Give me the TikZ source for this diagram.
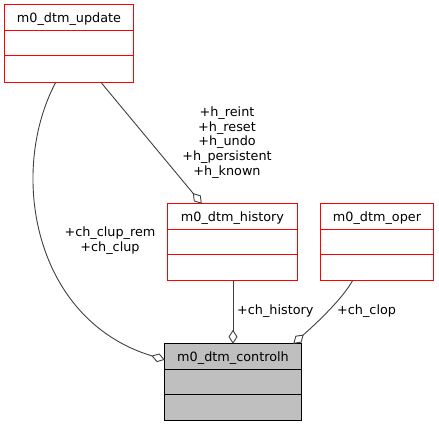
\documentclass[tikz,border=0pt]{standalone}
\usepackage{fontspec}
\setmainfont{DejaVu Sans}
\usetikzlibrary{arrows.meta,calc}
\definecolor{EdgeGray}{HTML}{404040}
\definecolor{BoxGray}{HTML}{BFBFBF}
\definecolor{BoxRed}{HTML}{FF0000}

\begin{document}
\begin{tikzpicture}[x=1pt,y=-1pt,
  font=\fontsize{12.8}{14.8}\selectfont,
  clsbox/.style={rectangle,inner sep=0pt,minimum height=76pt},
  curbox/.style={rectangle,fill=BoxGray,inner sep=0pt,minimum height=76pt},
  sep/.style={line width=1pt},
  agg/.style={draw=EdgeGray,line width=0.9pt,{Diamond[open,length=14pt,width=9pt]}-},
  lbl/.style={align=center,inner sep=0pt}]
\useasboundingbox (0,0) rectangle (439,427);
% classes
\node[clsbox,minimum width=128pt,minimum height=77pt] (update) at (69,43.5) {};
\node[clsbox,minimum width=129pt] (history) at (232.5,242) {};
\node[clsbox,minimum width=112pt] (oper) at (377,242) {};
\node[curbox,minimum width=136pt] (controlh) at (233,382) {};
\node (updateT) at ([yshift=-14pt]update.north) {m0\_dtm\_update};
\node (historyT) at ([yshift=-14pt]history.north) {m0\_dtm\_history};
\node (operT) at ([yshift=-14pt]oper.north) {m0\_dtm\_oper};
\node (controlhT) at ([yshift=-14pt]controlh.north) {m0\_dtm\_controlh};
\draw[sep,BoxRed] (update.north west) rectangle (update.south east);
\draw[sep,BoxRed] ([yshift=-26pt]update.north west) -- ([yshift=-26pt]update.north east);
\draw[sep,BoxRed] ([yshift=-51pt]update.north west) -- ([yshift=-51pt]update.north east);
\draw[sep,BoxRed] (history.north west) rectangle (history.south east);
\draw[sep,BoxRed] ([yshift=-26pt]history.north west) -- ([yshift=-26pt]history.north east);
\draw[sep,BoxRed] ([yshift=-51pt]history.north west) -- ([yshift=-51pt]history.north east);
\draw[sep,BoxRed] (oper.north west) rectangle (oper.south east);
\draw[sep,BoxRed] ([yshift=-26pt]oper.north west) -- ([yshift=-26pt]oper.north east);
\draw[sep,BoxRed] ([yshift=-51pt]oper.north west) -- ([yshift=-51pt]oper.north east);
\draw[sep] (controlh.north west) rectangle (controlh.south east);
\draw[sep] ([yshift=-26pt]controlh.north west) -- ([yshift=-26pt]controlh.north east);
\draw[sep] ([yshift=-51pt]controlh.north west) -- ([yshift=-51pt]controlh.north east);
% members
\draw[agg] ([xshift=34pt]history.north west) -- ([xshift=96pt]update.south west);
\draw[agg] (controlh.north) -- (controlh.north |- history.south);
\draw[agg] ([xshift=-8pt]controlh.north east) .. controls (318,322) and (343,298) .. ([xshift=32pt]oper.south west);
\draw[agg] ([yshift=-16pt]controlh.north west) .. controls (33,320) and (8,172) .. ([xshift=51pt]update.south west);
\node[lbl] (hlbl) at (227,142.5) {+h\_reint\\+h\_reset\\+h\_undo\\+h\_persistent\\+h\_known};
\node[lbl,anchor=west] (chhist) at (237,311) {+ch\_history};
\node[lbl,anchor=west] (chclop) at (337,311) {+ch\_clop};
\node[lbl] (chclup) at (110,241) {+ch\_clup\_rem\\+ch\_clup};
\end{tikzpicture}
\end{document}
